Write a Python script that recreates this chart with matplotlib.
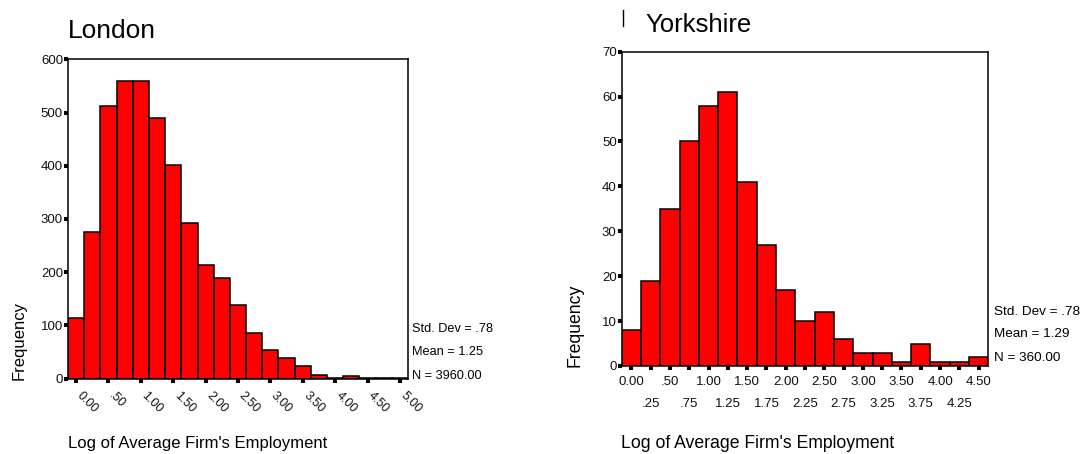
import numpy as np
import matplotlib
matplotlib.use("Agg")
import matplotlib.pyplot as plt
import matplotlib.transforms as mtransforms
from matplotlib.lines import Line2D

plt.rcParams['font.family'] = ['Liberation Sans', 'DejaVu Sans']

# London: bins of width .25 centred on 0.00 ... 5.00
london_centres = np.arange(21) * 0.25
london_counts = [113, 275, 512, 560, 560, 489, 402, 293, 214, 188, 139,
                 85, 54, 38, 23, 6, 1, 5, 1, 1, 1]
london_ticks = np.arange(11) * 0.5
london_ticklabels = ["0.00", ".50", "1.00", "1.50", "2.00", "2.50",
                     "3.00", "3.50", "4.00", "4.50", "5.00"]
london_stats = ["Std. Dev = .78", "Mean = 1.25", "N = 3960.00"]

# Yorkshire: bins of width .25 centred on 0.00 ... 4.50
york_centres = np.arange(19) * 0.25
york_counts = [8, 19, 35, 50, 58, 61, 41, 27, 17, 10, 12, 6, 3, 3, 1, 5, 1, 1, 2]
york_major = np.arange(10) * 0.5
york_major_labels = ["0.00", ".50", "1.00", "1.50", "2.00", "2.50",
                     "3.00", "3.50", "4.00", "4.50"]
york_minor = np.arange(9) * 0.5 + 0.25
york_minor_labels = [".25", ".75", "1.25", "1.75", "2.25", "2.75",
                     "3.25", "3.75", "4.25"]
york_stats = ["Std. Dev = .78", "Mean = 1.29", "N = 360.00"]

W, H = 1080, 454
fig = plt.figure(figsize=(W / 100, H / 100), dpi=100)


def px_axes(left, top, right, bottom):
    return fig.add_axes([left / W, 1 - bottom / H, (right - left) / W, (bottom - top) / H])


def style(ax):
    for s in ax.spines.values():
        s.set_linewidth(1.1)
        s.set_color('black')
    ax.tick_params(axis='both', which='both', direction='out', length=2.8,
                   width=2.9, color='black', labelsize=9.5, labelcolor='#111111')
    ax.tick_params(axis='y', pad=0.8)


# ---- London ----
ax1 = px_axes(68, 59.3, 408, 378.5)
ax1.bar(london_centres, london_counts, width=0.25, color='#ff0000',
        edgecolor='black', linewidth=1.1)
ax1.set_xlim(-0.125, 5.125)
ax1.set_ylim(0, 600)
ax1.set_yticks([0, 100, 200, 300, 400, 500, 600])
style(ax1)
ax1.set_xticks(london_ticks)
ax1.set_xticklabels(london_ticklabels, rotation=-45, ha='left', va='top',
                    rotation_mode='anchor', fontsize=9)
ax1.tick_params(axis='x', pad=5)
shift = mtransforms.ScaledTranslation(7 / 100, 0, fig.dpi_scale_trans)
for lbl in ax1.get_xticklabels():
    lbl.set_transform(lbl.get_transform() + shift)
fig.text(68 / W, 1 - 31 / H, "London", fontsize=19, ha='left', va='center')
fig.text(19 / W, 1 - 341 / H, "Frequency", fontsize=12, rotation=90,
         ha='center', va='center')
fig.text(68 / W, 1 - 443.5 / H, "Log of Average Firm's Employment",
         fontsize=12, ha='left', va='center')
for txt, y in zip(london_stats, [329, 352, 376]):
    fig.text(412 / W, 1 - y / H, txt, fontsize=9.2, ha='left', va='center')

# ---- Yorkshire ----
ax2 = px_axes(621.7, 51.7, 988.3, 366)
ax2.bar(york_centres, york_counts, width=0.25, color='#ff0000',
        edgecolor='black', linewidth=1.1)
ax2.set_xlim(-0.125, 4.625)
ax2.set_ylim(0, 70)
ax2.set_yticks(np.arange(0, 71, 10))
style(ax2)
ax2.set_xticks(york_major)
ax2.set_xticklabels(york_major_labels)
ax2.set_xticks(york_minor, minor=True)
ax2.set_xticklabels(york_minor_labels, minor=True)
ax2.tick_params(axis='x', which='major', pad=4.5)
ax2.tick_params(axis='x', which='minor', pad=20.5)
fig.text(645 / W, 1 - 25 / H, "Yorkshire", fontsize=18.5, ha='left', va='center')
fig.add_artist(Line2D([623 / W, 623 / W], [1 - 10 / H, 1 - 26 / H],
                      color='black', linewidth=1.0))
fig.text(575 / W, 1 - 325 / H, "Frequency", fontsize=12.7, rotation=90,
         ha='center', va='center')
fig.text(621 / W, 1 - 443.3 / H, "Log of Average Firm's Employment",
         fontsize=12.7, ha='left', va='center')
for txt, y in zip(york_stats, [311.7, 334, 357.7]):
    fig.text(994 / W, 1 - y / H, txt, fontsize=9.7, ha='left', va='center')

fig.savefig("out.png", dpi=100)
